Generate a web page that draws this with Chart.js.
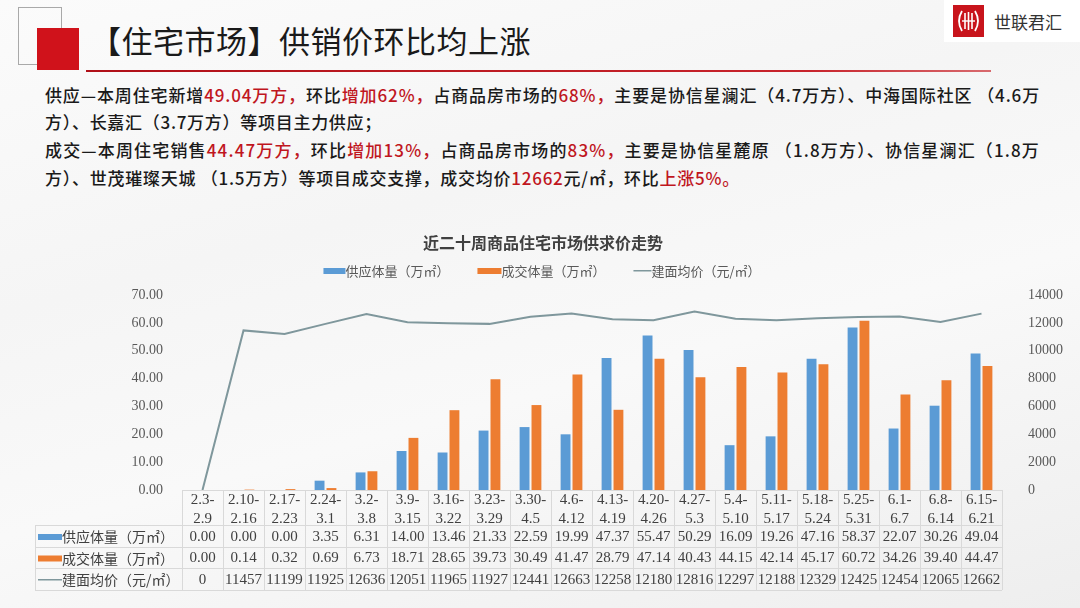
<!DOCTYPE html>
<html>
<head>
<meta charset="utf-8">
<script src="https://cdn.jsdelivr.net/npm/chart.js@4.4.1/dist/chart.umd.min.js"></script>
<style>
html,body{margin:0;padding:0;}
body{width:1080px;height:608px;position:relative;overflow:hidden;
  background:linear-gradient(165deg,#fbfbfb 0%,#f5f5f5 35%,#f9f9f9 60%,#eeeeee 100%);
  font-family:"Noto Sans CJK SC",sans-serif;}
.sq1{position:absolute;left:18px;top:7px;width:44px;height:58px;border:1px solid #a9a9a9;box-sizing:border-box;}
.sq2{position:absolute;left:37px;top:28px;width:42px;height:42px;background:#d0121b;}
.title{position:absolute;left:90px;top:22px;font-size:31px;line-height:36px;color:#1a1a1a;white-space:nowrap;letter-spacing:0.5px;}
.rule{position:absolute;left:86px;top:70px;width:905px;height:2px;background:linear-gradient(90deg,#b01018,#c8242c 80%,#d86a6e);}
.logoBox{position:absolute;left:944px;top:0;width:136px;height:42px;background:#ffffff;}
.logoIcon{position:absolute;left:953px;top:5px;width:31px;height:32px;}
.logoText{position:absolute;left:994px;top:10px;font-size:17px;line-height:24px;color:#333;white-space:nowrap;}
.para{position:absolute;left:45px;font-size:17px;line-height:24px;color:#1a1a1a;white-space:nowrap;font-weight:500;}
.para .r{color:#c0161e;}
#cv{position:absolute;left:0;top:225px;}
</style>
</head>
<body>
<div class="sq1"></div>
<div class="sq2"></div>
<div class="title">【住宅市场】供销价环比均上涨</div>
<div class="rule"></div>
<div class="logoBox"></div>
<svg class="logoIcon" viewBox="0 0 31 32">
  <rect x="0" y="0" width="31" height="32" fill="#c8141c"/>
  <path d="M9 6 Q3 16 9 26" stroke="#fff" stroke-width="1.8" fill="none"/>
  <path d="M22 6 Q28 16 22 26" stroke="#fff" stroke-width="1.8" fill="none"/>
  <line x1="12" y1="8" x2="12" y2="24" stroke="#fff" stroke-width="1.6"/>
  <line x1="15.5" y1="7" x2="15.5" y2="25" stroke="#fff" stroke-width="1.6"/>
  <line x1="19" y1="8" x2="19" y2="24" stroke="#fff" stroke-width="1.6"/>
  <line x1="9" y1="16" x2="22" y2="16" stroke="#fff" stroke-width="1.4"/>
</svg>
<div class="logoText">世联君汇</div>

<div class="para" data-w="995" style="top:83px">供应—本周住宅新增<span class="r">49.04万方，</span>环比<span class="r">增加62%，</span>占商品房市场的<span class="r">68%，</span>主要是协信星澜汇（4.7万方）、中海国际社区 （4.6万</div>
<div class="para" data-w="337" style="top:110px">方）、长嘉汇（3.7万方）等项目主力供应；</div>
<div class="para" data-w="995" style="top:138px">成交—本周住宅销售<span class="r">44.47万方，</span>环比<span class="r">增加13%，</span>占商品房市场的<span class="r">83%，</span>主要是协信星麓原 （1.8万方）、协信星澜汇（1.8万</div>
<div class="para" data-w="695" style="top:166px">方）、世茂璀璨天城 （1.5万方）等项目成交支撑，成交均价<span class="r">12662</span>元/㎡，环比<span class="r">上涨5%。</span></div>

<canvas id="cv" width="1080" height="383"></canvas>

<script>
// ---- data ----
const chartTitle = "近二十周商品住宅市场供求价走势";
const seriesNames = ["供应体量（万㎡）", "成交体量（万㎡）", "建面均价（元/㎡）"];
const categories = [["2.3-","2.9"],["2.10-","2.16"],["2.17-","2.23"],["2.24-","3.1"],["3.2-","3.8"],["3.9-","3.15"],["3.16-","3.22"],["3.23-","3.29"],["3.30-","4.5"],["4.6-","4.12"],["4.13-","4.19"],["4.20-","4.26"],["4.27-","5.3"],["5.4-","5.10"],["5.11-","5.17"],["5.18-","5.24"],["5.25-","5.31"],["6.1-","6.7"],["6.8-","6.14"],["6.15-","6.21"]];
const supply = [0.00,0.00,0.00,3.35,6.31,14.00,13.46,21.33,22.59,19.99,47.37,55.47,50.29,16.09,19.26,47.16,58.37,22.07,30.26,49.04];
const deal = [0.00,0.14,0.32,0.69,6.73,18.71,28.65,39.73,30.49,41.47,28.79,47.14,40.43,44.15,42.14,45.17,60.72,34.26,39.40,44.47];
const price = [0,11457,11199,11925,12636,12051,11965,11927,12441,12663,12258,12180,12816,12297,12188,12329,12425,12454,12065,12662];
const leftAxis = {min:0, max:70, step:10};
const rightAxis = {min:0, max:14000, step:2000};

const COLORS = ["#5b9bd5", "#ed7d31", "#7f979c"];

// fit paragraph lines to the reference line widths
document.querySelectorAll('.para').forEach(el=>{
  const target = +el.dataset.w;
  const w = el.getBoundingClientRect().width;
  const n = el.textContent.length;
  el.style.letterSpacing = ((target - w) / n) + 'px';
});

const NUMFONT = '"Liberation Serif", serif';
const CJK = '"Noto Sans CJK SC", sans-serif';

const tablePlugin = {
  id: 'tbl',
  afterDraw(chart) {
    const {ctx, chartArea: a, scales: {x}} = chart;
    const n = categories.length;
    const colW = (a.right - a.left) / n;
    ctx.save();
    // title
    ctx.fillStyle = '#404040';
    ctx.font = 'bold 16px ' + CJK;
    ctx.textAlign = 'center';
    ctx.textBaseline = 'middle';
    ctx.fillText(chartTitle, 543, 18);
    // legend
    ctx.font = '13px ' + CJK;
    const sw = [22, 24, 18];
    const gap = 28;
    const widths = seriesNames.map(s => ctx.measureText(s).width);
    let total = 0;
    for (let i = 0; i < 3; i++) total += sw[i] + widths[i] + (i < 2 ? gap : 0);
    let lx = 542 - total / 2;
    const ly = 46;
    ctx.textAlign = 'left';
    for (let i = 0; i < 3; i++) {
      ctx.fillStyle = COLORS[i];
      if (i < 2) ctx.fillRect(lx, ly - 3, sw[i], 6);
      else ctx.fillRect(lx, ly - 1, sw[i], 1.5);
      ctx.fillStyle = '#595959';
      ctx.fillText(seriesNames[i], lx + sw[i], ly);
      lx += sw[i] + widths[i] + gap;
    }
    // table grid
    const rowLines = [300, 322, 343, 365];
    const tLeft = 35;
    ctx.strokeStyle = '#d9d9d9';
    ctx.lineWidth = 1;
    ctx.beginPath();
    ctx.moveTo(a.left, Math.round(a.bottom) + 0.5);
    ctx.lineTo(a.right, Math.round(a.bottom) + 0.5);
    rowLines.forEach(y => { ctx.moveTo(tLeft, y + 0.5); ctx.lineTo(a.right, y + 0.5); });
    for (let i = 0; i <= n; i++) {
      const xx = Math.round(x.getPixelForValue(i) - colW / 2) + 0.5;
      ctx.moveTo(xx, a.bottom); ctx.lineTo(xx, rowLines[3]);
    }
    ctx.moveTo(tLeft + 0.5, rowLines[0]); ctx.lineTo(tLeft + 0.5, rowLines[3]);
    ctx.stroke();
    // rows
    const rows = [
      supply.map(v => v.toFixed(2)),
      deal.map(v => v.toFixed(2)),
      price.map(v => String(v))
    ];
    ctx.textBaseline = 'middle';
    rows.forEach((vals, r) => {
      const yc = (rowLines[r] + rowLines[r + 1]) / 2 + 1;
      ctx.fillStyle = COLORS[r];
      if (r < 2) ctx.fillRect(tLeft + 3, yc - 3, 24, 6);
      else ctx.fillRect(tLeft + 3, yc - 1, 24, 1.5);
      ctx.fillStyle = '#404040';
      ctx.textAlign = 'left';
      ctx.font = '14px ' + CJK;
      ctx.fillText(seriesNames[r], tLeft + 27, yc);
      ctx.textAlign = 'center';
      ctx.font = '15px ' + NUMFONT;
      vals.forEach((t, i) => ctx.fillText(t, x.getPixelForValue(i), yc));
    });
    ctx.restore();
  }
};

new Chart(document.getElementById('cv'), {
  data: {
    labels: categories,
    datasets: [
      {type: 'line', label: seriesNames[2], data: price, yAxisID: 'y1', borderColor: COLORS[2], borderWidth: 2,
       pointRadius: 0, tension: 0, order: 0},
      {type: 'bar', label: seriesNames[0], data: supply, yAxisID: 'y', backgroundColor: COLORS[0],
       categoryPercentage: 0.58, barPercentage: 0.83, order: 1},
      {type: 'bar', label: seriesNames[1], data: deal, yAxisID: 'y', backgroundColor: COLORS[1],
       categoryPercentage: 0.58, barPercentage: 0.83, order: 1}
    ]
  },
  options: {
    responsive: false,
    animation: false,
    devicePixelRatio: 1,
    layout: {padding: {top: 70, left: 0, right: 0, bottom: 0}},
    plugins: {legend: {display: false}, title: {display: false}, tooltip: {enabled: false}},
    scales: {
      x: {
        grid: {display: false, drawTicks: false},
        border: {display: false},
        ticks: {color: '#404040', font: {family: NUMFONT, size: 15, lineHeight: 1.25}, padding: 1, maxRotation: 0, autoSkip: false},
        afterFit(s) { s.height = 118; }
      },
      y: {
        position: 'left', min: leftAxis.min, max: leftAxis.max,
        grid: {display: false, drawTicks: false}, border: {display: false},
        ticks: {stepSize: leftAxis.step, color: '#595959', font: {family: NUMFONT, size: 14}, padding: 19,
                callback: v => Number(v).toFixed(2)},
        afterFit(s) { s.width = 182; }
      },
      y1: {
        position: 'right', min: rightAxis.min, max: rightAxis.max,
        grid: {display: false, drawTicks: false}, border: {display: false},
        ticks: {stepSize: rightAxis.step, color: '#595959', font: {family: NUMFONT, size: 14}, padding: 26,
                callback: v => String(v)},
        afterFit(s) { s.width = 78; }
      }
    }
  },
  plugins: [tablePlugin]
});
</script>
</body>
</html>
